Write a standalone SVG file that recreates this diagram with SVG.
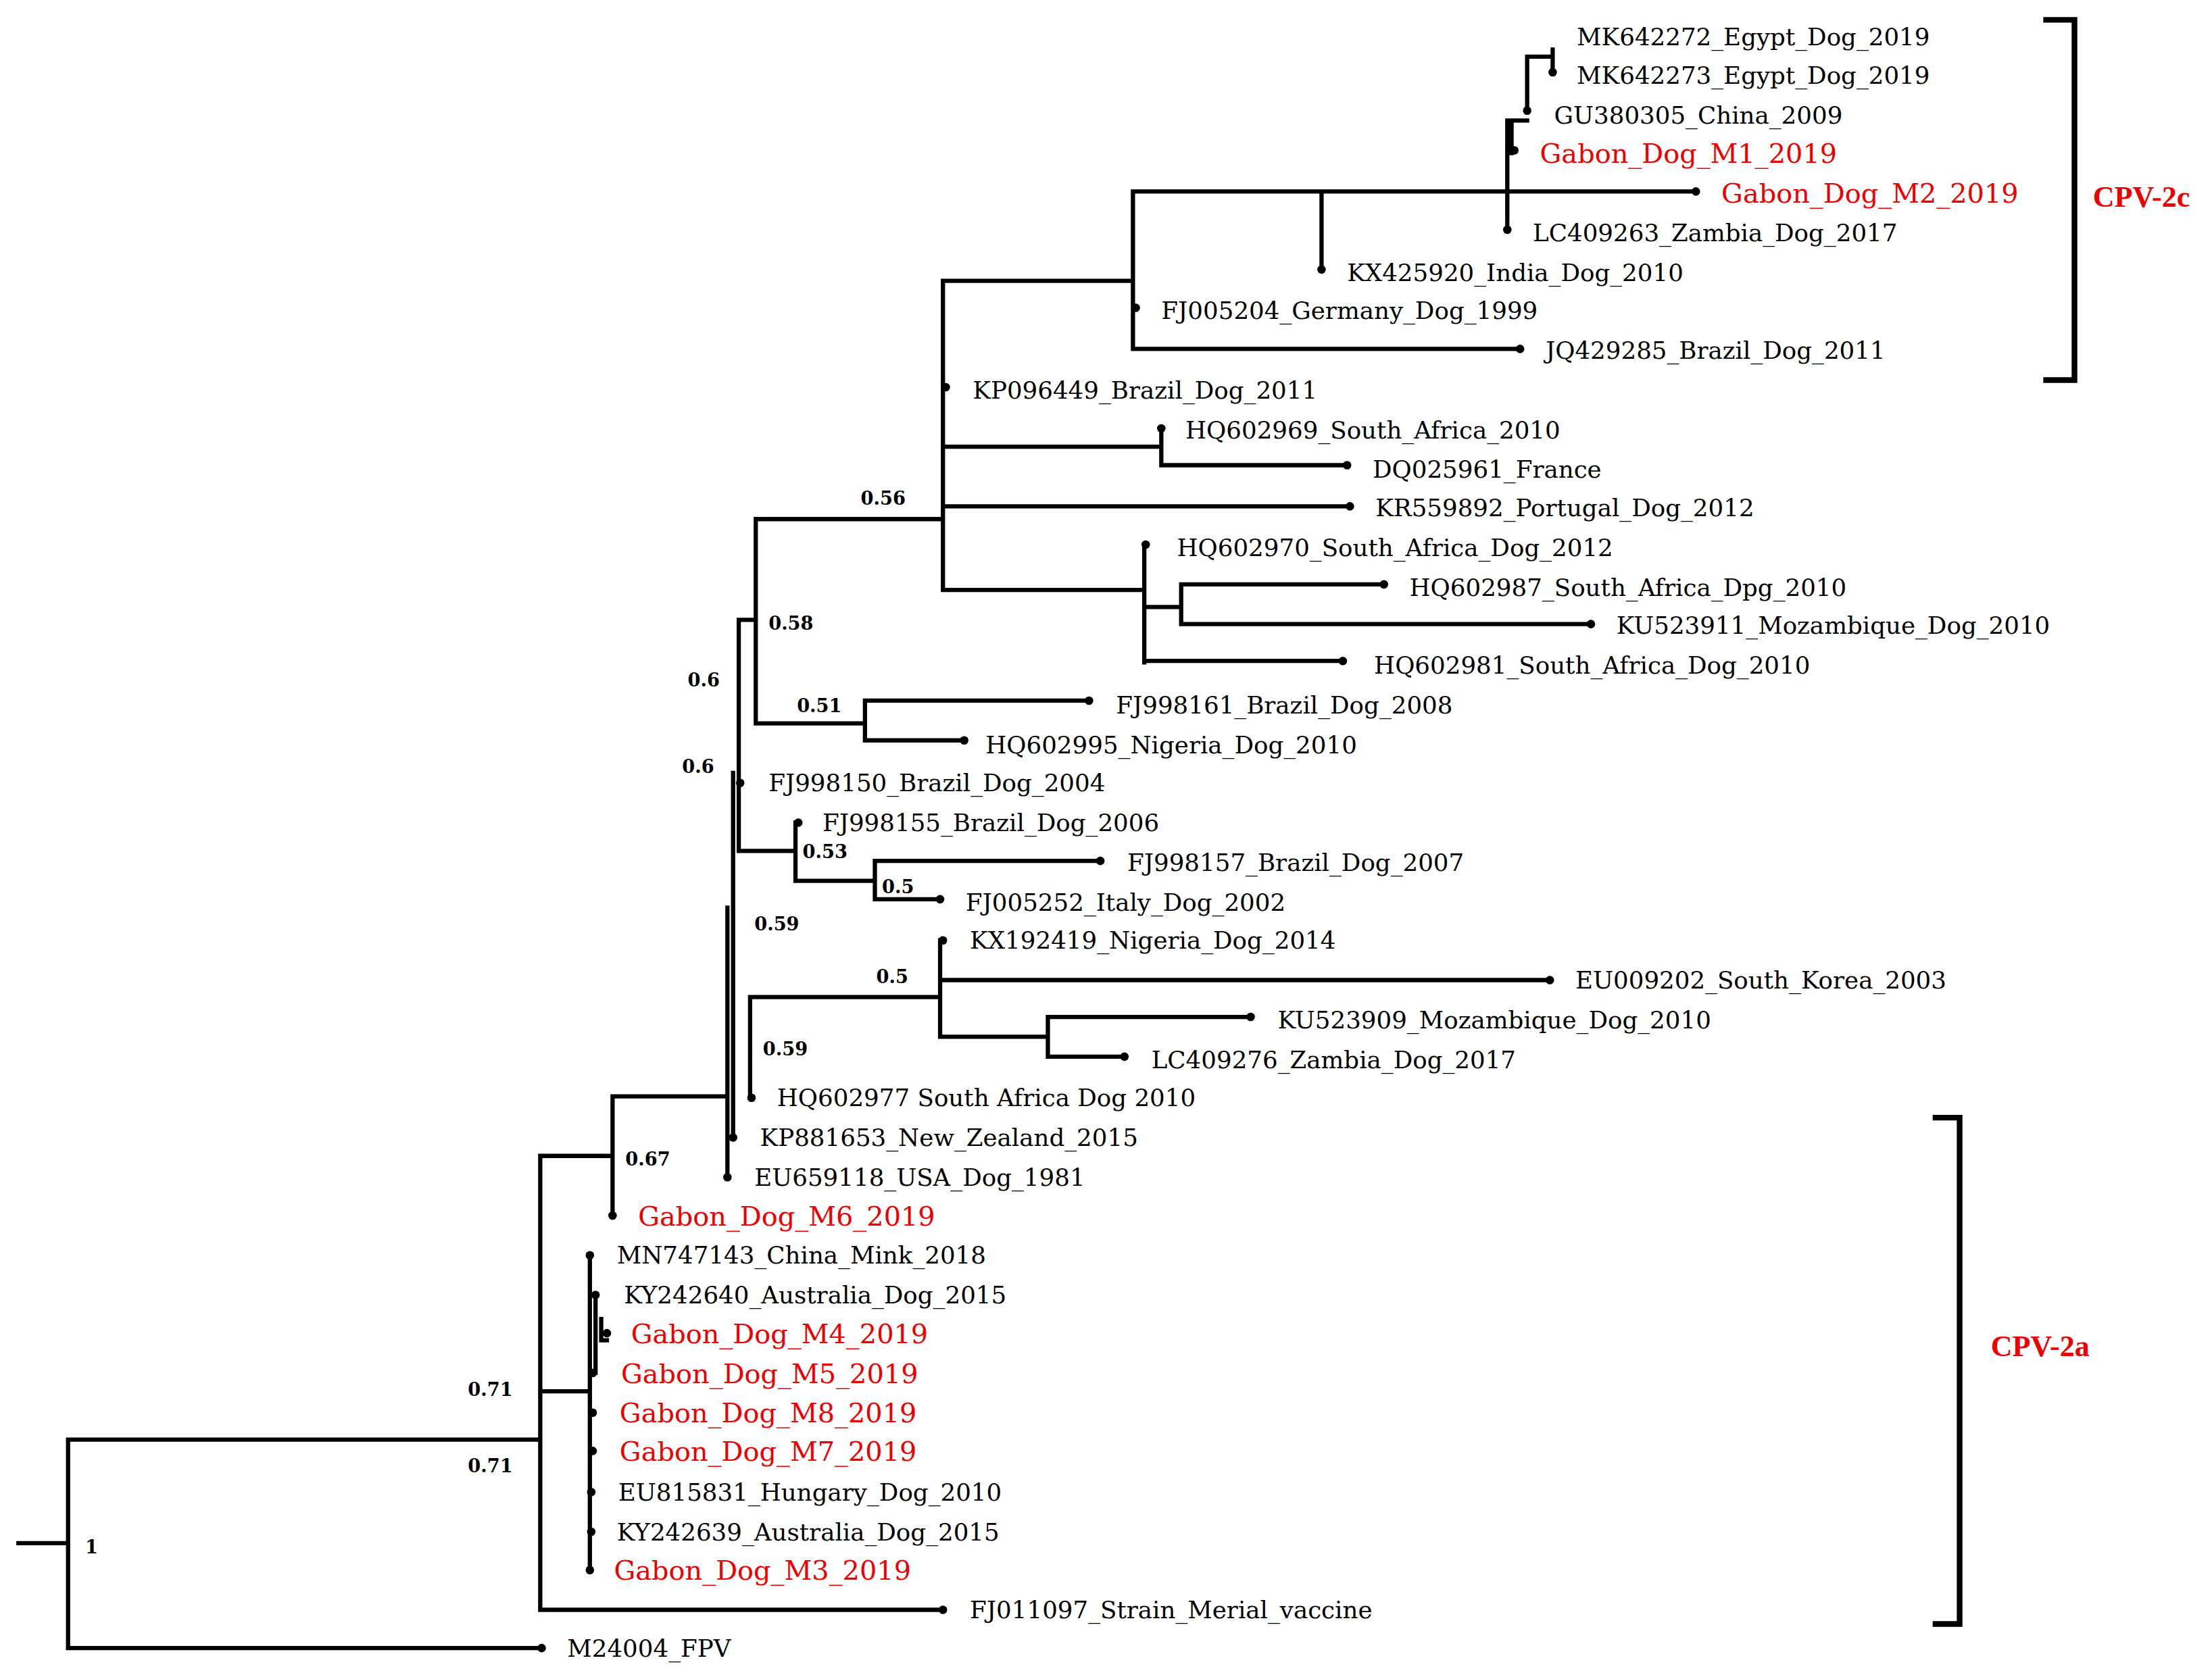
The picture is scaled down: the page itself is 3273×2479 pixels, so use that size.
<svg xmlns="http://www.w3.org/2000/svg" width="3273" height="2479" viewBox="0 0 3273 2479">
<style>
.e{fill:none;stroke:#000;stroke-width:3;stroke-linecap:square}
.t{font-family:"DejaVu Serif","Liberation Serif",serif;font-size:17px;fill:#000}
.r{fill:#e00;font-size:19px}
.b{font-family:"DejaVu Serif","Liberation Serif",serif;font-size:13px;font-weight:bold;fill:#000}
.c{font-family:"Liberation Serif",serif;font-size:21px;font-weight:bold;fill:#e00}
.d{fill:#000}
</style>
<rect width="3273" height="2479" fill="#fff"/>
<g transform="scale(2.0981,2.0991)">
<g id="connectors">
<path class="e" d="M13,1088H48M48,1015V1162H382M48,1015H381M381,815V1135M381,1135H665M381,981H416M416,885V1107M420,913V968M424,930V945H428M432,773V857M381,815H432M432,773H513M513,640V830M517,545V802M521,437V600M529,703V774M529,703H663M663,663V731M663,691H1093M663,731H739M739,717V745M739,717H882M739,745H793M521,600H561M561,580V621M561,621H617M617,607V634M617,607H776M617,634H663M521,437H533M533,366V510M533,510H610M610,494V522M610,494H768M610,522H680M533,366H665M665,198V416M665,198H799M799,135V246M799,246H1072M799,135H1063M932,135V190M1063,135H1196M1063,85V162M1066,85V108M1063,85H1077M1077,40V78M1077,40H1095M1095,35V51M665,315H819M819,302V328M819,328H950M665,357H952M665,416H807M807,384V467M807,428H833M833,412V440M833,412H976M833,440H1122M807,466H947"/>
<path class="e" style="stroke-width:4" d="M1443,14H1463V268H1443M1365,788H1382V1145H1365"/>
</g>
<g id="dots">
<circle class="d" cx="382" cy="1162" r="3"/><circle class="d" cx="665" cy="1135" r="3"/>
<circle class="d" cx="416" cy="885" r="3"/><circle class="d" cx="420" cy="913" r="3"/><circle class="d" cx="428" cy="940" r="3"/><circle class="d" cx="418" cy="968" r="3"/><circle class="d" cx="418" cy="996" r="3"/><circle class="d" cx="418" cy="1023" r="3"/><circle class="d" cx="417" cy="1052" r="3"/><circle class="d" cx="417" cy="1080" r="3"/><circle class="d" cx="416" cy="1107" r="3"/>
<circle class="d" cx="432" cy="857" r="3"/><circle class="d" cx="513" cy="830" r="3"/><circle class="d" cx="517" cy="802" r="3"/><circle class="d" cx="530" cy="774" r="3"/>
<circle class="d" cx="665" cy="663" r="3"/><circle class="d" cx="1093" cy="691" r="3"/><circle class="d" cx="882" cy="717" r="3"/><circle class="d" cx="793" cy="745" r="3"/>
<circle class="d" cx="563" cy="580" r="3"/><circle class="d" cx="776" cy="607" r="3"/><circle class="d" cx="663" cy="634" r="3"/><circle class="d" cx="522" cy="552" r="3"/>
<circle class="d" cx="768" cy="494" r="3"/><circle class="d" cx="680" cy="522" r="3"/><circle class="d" cx="667" cy="273" r="3"/>
<circle class="d" cx="801" cy="217" r="3"/><circle class="d" cx="1072" cy="246" r="3"/><circle class="d" cx="932" cy="190" r="3"/><circle class="d" cx="1196" cy="135" r="3"/><circle class="d" cx="1063" cy="162" r="3"/><circle class="d" cx="1068" cy="106" r="3"/><circle class="d" cx="1077" cy="78" r="3"/><circle class="d" cx="1095" cy="51" r="3"/>
<circle class="d" cx="819" cy="302" r="3"/><circle class="d" cx="950" cy="328" r="3"/><circle class="d" cx="952" cy="357" r="3"/><circle class="d" cx="808" cy="384" r="3"/><circle class="d" cx="976" cy="412" r="3"/><circle class="d" cx="1122" cy="440" r="3"/><circle class="d" cx="947" cy="466" r="3"/>
</g>
<g id="labels">
<text class="t" x="1112" y="32">MK642272_Egypt_Dog_2019</text>
<text class="t" x="1112" y="59">MK642273_Egypt_Dog_2019</text>
<text class="t" x="1096" y="87">GU380305_China_2009</text>
<text class="t r" x="1086" y="115">Gabon_Dog_M1_2019</text>
<text class="t r" x="1214" y="143">Gabon_Dog_M2_2019</text>
<text class="t" x="1081" y="170">LC409263_Zambia_Dog_2017</text>
<text class="t" x="950" y="198">KX425920_India_Dog_2010</text>
<text class="t" x="819" y="225">FJ005204_Germany_Dog_1999</text>
<text class="t" x="1090" y="253">JQ429285_Brazil_Dog_2011</text>
<text class="t" x="686" y="281">KP096449_Brazil_Dog_2011</text>
<text class="t" x="836" y="309">HQ602969_South_Africa_2010</text>
<text class="t" x="968" y="337">DQ025961_France</text>
<text class="t" x="970" y="364">KR559892_Portugal_Dog_2012</text>
<text class="t" x="830" y="392">HQ602970_South_Africa_Dog_2012</text>
<text class="t" x="994" y="420">HQ602987_South_Africa_Dpg_2010</text>
<text class="t" x="1140" y="447">KU523911_Mozambique_Dog_2010</text>
<text class="t" x="969" y="475">HQ602981_South_Africa_Dog_2010</text>
<text class="t" x="787" y="503">FJ998161_Brazil_Dog_2008</text>
<text class="t" x="695" y="531">HQ602995_Nigeria_Dog_2010</text>
<text class="t" x="542" y="558">FJ998150_Brazil_Dog_2004</text>
<text class="t" x="580" y="586">FJ998155_Brazil_Dog_2006</text>
<text class="t" x="795" y="614">FJ998157_Brazil_Dog_2007</text>
<text class="t" x="681" y="642">FJ005252_Italy_Dog_2002</text>
<text class="t" x="684" y="669">KX192419_Nigeria_Dog_2014</text>
<text class="t" x="1111" y="697">EU009202_South_Korea_2003</text>
<text class="t" x="901" y="725">KU523909_Mozambique_Dog_2010</text>
<text class="t" x="812" y="753">LC409276_Zambia_Dog_2017</text>
<text class="t" x="548" y="780">HQ602977 South Africa Dog 2010</text>
<text class="t" x="536" y="808">KP881653_New_Zealand_2015</text>
<text class="t" x="532" y="836">EU659118_USA_Dog_1981</text>
<text class="t r" x="450" y="864">Gabon_Dog_M6_2019</text>
<text class="t" x="435" y="891">MN747143_China_Mink_2018</text>
<text class="t" x="440" y="919">KY242640_Australia_Dog_2015</text>
<text class="t r" x="445" y="947">Gabon_Dog_M4_2019</text>
<text class="t r" x="438" y="975">Gabon_Dog_M5_2019</text>
<text class="t r" x="437" y="1003">Gabon_Dog_M8_2019</text>
<text class="t r" x="437" y="1030">Gabon_Dog_M7_2019</text>
<text class="t" x="436" y="1058">EU815831_Hungary_Dog_2010</text>
<text class="t" x="435" y="1086">KY242639_Australia_Dog_2015</text>
<text class="t r" x="433" y="1114">Gabon_Dog_M3_2019</text>
<text class="t" x="684" y="1141">FJ011097_Strain_Merial_vaccine</text>
<text class="t" x="400" y="1168">M24004_FPV</text>
</g>
<g id="support">
<text class="b" x="60" y="1095">1</text>
<text class="b" x="330" y="984">0.71</text>
<text class="b" x="330" y="1038">0.71</text>
<text class="b" x="441" y="822">0.67</text>
<text class="b" x="538" y="744">0.59</text>
<text class="b" x="618" y="693">0.5</text>
<text class="b" x="532" y="656">0.59</text>
<text class="b" x="622" y="630">0.5</text>
<text class="b" x="566" y="605">0.53</text>
<text class="b" x="481" y="545">0.6</text>
<text class="b" x="485" y="484">0.6</text>
<text class="b" x="562" y="502">0.51</text>
<text class="b" x="542" y="444">0.58</text>
<text class="b" x="607" y="356">0.56</text>
<text class="c" x="1476" y="146">CPV-2c</text>
<text class="c" x="1404" y="956">CPV-2a</text>
</g>
</g>
</svg>
